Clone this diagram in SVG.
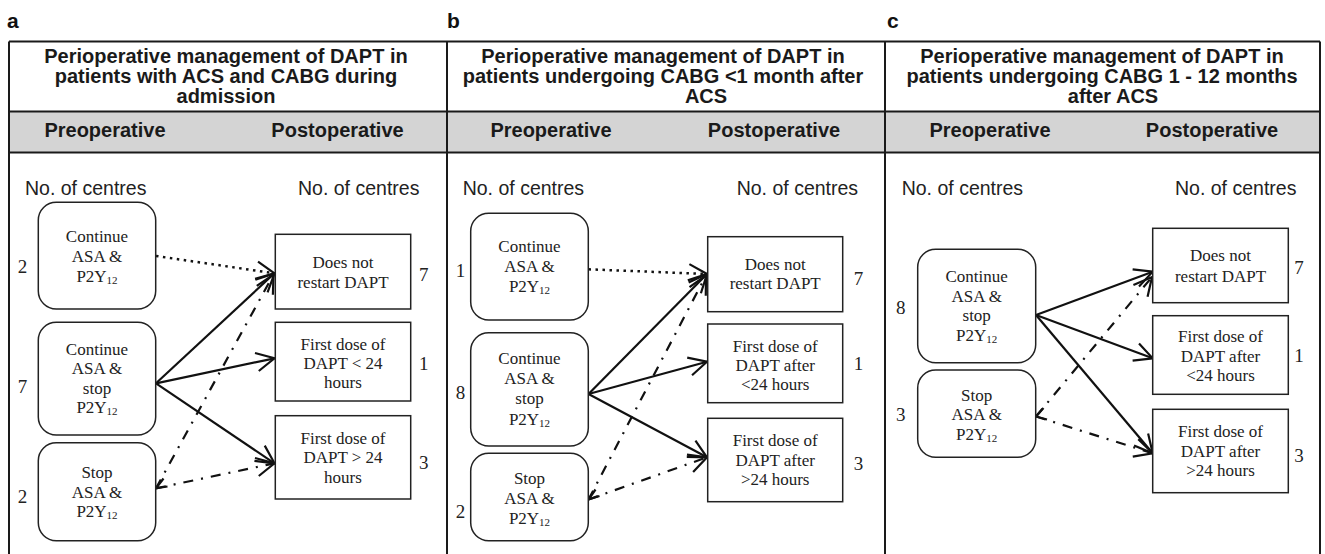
<svg xmlns="http://www.w3.org/2000/svg" width="1325" height="554" viewBox="0 0 1325 554">
<style>
.frame{fill:none;stroke:#1a1a1a;stroke-width:2}
.band{fill:#d4d4d4}
.plabel{font-family:"Liberation Sans",Arial,sans-serif;font-weight:bold;font-size:21px;fill:#111}
.title{font-family:"Liberation Sans",Arial,sans-serif;font-weight:bold;font-size:20px;text-anchor:middle;fill:#1a1a1a}
.cnt{font-family:"Liberation Sans",Arial,sans-serif;font-size:19.5px;fill:#222}
.box{fill:#fff;stroke:#222;stroke-width:1.5}
.lbl{font-family:"Liberation Serif","Times New Roman",serif;font-size:17px;text-anchor:middle;fill:#222}
.num{font-family:"Liberation Serif","Times New Roman",serif;font-size:19px;text-anchor:middle;fill:#222}
.sub{font-size:11px}
.conn path{fill:none;stroke:#111;stroke-width:2.2}
.conn .dot{stroke-dasharray:2.5 4.5;stroke-width:2.5}
.conn .dd{stroke-dasharray:10 8 2 8}
.conn .arr{marker-end:url(#ah)}
</style>
<defs>
<marker id="ah" markerUnits="userSpaceOnUse" markerWidth="26" markerHeight="26" viewBox="-23 -13 26 26" refX="0" refY="0" orient="auto">
<path d="M-18,-9.2 L0,0 L-18,9.2" fill="none" stroke="#111" stroke-width="2.2" stroke-dasharray="none"/>
</marker>
</defs>
<rect width="1325" height="554" fill="#fff"/>

<g id="frame">
<rect class="band" x="9" y="111.5" width="1311" height="41"/>
<path class="frame" d="M9,41.5 H1320 M9,111.5 H1320 M9,152.5 H1320 M9,41.5 V554 M447,41.5 V554 M885,41.5 V554 M1320,41.5 V554"/>
<text class="plabel" x="7" y="28">a</text>
<text class="plabel" x="447" y="28">b</text>
<text class="plabel" x="887" y="28">c</text>
<text class="title" x="226" y="63">Perioperative management of DAPT in</text>
<text class="title" x="226" y="83">patients with ACS and CABG during</text>
<text class="title" x="226" y="103">admission</text>
<text class="title" x="663" y="63">Perioperative management of DAPT in</text>
<text class="title" x="663" y="83">patients undergoing CABG &lt;1 month after</text>
<text class="title" x="706" y="103">ACS</text>
<text class="title" x="1102" y="63">Perioperative management of DAPT in</text>
<text class="title" x="1102" y="83">patients undergoing CABG 1 - 12 months</text>
<text class="title" x="1113" y="103">after ACS</text>
<text class="title" x="105" y="137">Preoperative</text>
<text class="title" x="337.5" y="137">Postoperative</text>
<text class="title" x="551" y="137">Preoperative</text>
<text class="title" x="774" y="137">Postoperative</text>
<text class="title" x="990" y="137">Preoperative</text>
<text class="title" x="1212" y="137">Postoperative</text>
<text class="cnt" x="25" y="195">No. of centres</text>
<text class="cnt" x="298" y="195">No. of centres</text>
<text class="cnt" x="462.7" y="195">No. of centres</text>
<text class="cnt" x="736.7" y="195">No. of centres</text>
<text class="cnt" x="901.7" y="195">No. of centres</text>
<text class="cnt" x="1175" y="195">No. of centres</text>
</g>

<g class="conn" id="connectors">
<!-- panel a -->
<path class="dot arr" d="M156,256 L274.5,273.3"/>
<path class="arr" d="M156,383.3 L274.5,273.3"/>
<path class="arr" d="M156,383.3 L274.5,358.3"/>
<path class="arr" d="M156,383.3 L274.5,463.3"/>
<path class="dd arr" d="M156,488.3 L273.5,274.5"/>
<path class="dd arr" d="M156,488.3 L274.5,463.3"/>
<path d="M163.5,478.5 L156,488.3 L167.5,486.5"/>
<!-- panel b -->
<path class="dot arr" d="M588.5,269.3 L707,274"/>
<path class="arr" d="M588.5,394 L707,274"/>
<path class="arr" d="M588.5,394 L707,361.7"/>
<path class="arr" d="M588.5,394 L707,457.3"/>
<path class="dd arr" d="M588.5,499.5 L706,275.5"/>
<path class="dd arr" d="M588.5,499.5 L707,457.3"/>
<path d="M595.5,489.5 L588.5,499.5 L599.5,496"/>
<!-- panel c -->
<path class="arr" d="M1036,315 L1152.7,271.7"/>
<path class="arr" d="M1036,315 L1152.7,358.3"/>
<path class="arr" d="M1036,315 L1152.7,453.3"/>
<path class="dd arr" d="M1036,416.5 L1152,277"/>
<path class="dd arr" d="M1036,416.5 L1152.7,453.3"/>
<path d="M1043.5,408 L1036,416.5 L1047,419.5"/>
</g>

<!-- panel a nodes -->
<g id="a-pre1">
<rect class="box" x="38.3" y="202.3" width="117.4" height="106.7" rx="18"/>
<text class="lbl" x="97" y="241.7">Continue</text>
<text class="lbl" x="97" y="261.7">ASA &amp;</text>
<text class="lbl" x="97" y="281.7">P2Y<tspan class="sub" dy="2">12</tspan></text>
<text class="num" x="22.5" y="273.3">2</text>
</g>
<g id="a-pre2">
<rect class="box" x="38.3" y="322.3" width="117.4" height="112.7" rx="18"/>
<text class="lbl" x="97" y="355">Continue</text>
<text class="lbl" x="97" y="374">ASA &amp;</text>
<text class="lbl" x="97" y="393.5">stop</text>
<text class="lbl" x="97" y="413.3">P2Y<tspan class="sub" dy="2">12</tspan></text>
<text class="num" x="22.5" y="392.7">7</text>
</g>
<g id="a-pre3">
<rect class="box" x="38.3" y="442.7" width="117.4" height="98" rx="18"/>
<text class="lbl" x="97" y="478.3">Stop</text>
<text class="lbl" x="97" y="498">ASA &amp;</text>
<text class="lbl" x="97" y="517">P2Y<tspan class="sub" dy="2">12</tspan></text>
<text class="num" x="22.5" y="503.3">2</text>
</g>
<g id="a-post1">
<rect class="box" x="275.3" y="234.3" width="135.4" height="74.7"/>
<text class="lbl" x="343" y="268.3">Does not</text>
<text class="lbl" x="343" y="288.3">restart DAPT</text>
<text class="num" x="423.8" y="280.7">7</text>
</g>
<g id="a-post2">
<rect class="box" x="275.3" y="322.3" width="135.4" height="78.7"/>
<text class="lbl" x="343" y="350">First dose of</text>
<text class="lbl" x="343" y="368.5">DAPT &lt; 24</text>
<text class="lbl" x="343" y="388.3">hours</text>
<text class="num" x="423.8" y="370">1</text>
</g>
<g id="a-post3">
<rect class="box" x="275.3" y="415.7" width="135.4" height="83.3"/>
<text class="lbl" x="343" y="444">First dose of</text>
<text class="lbl" x="343" y="463.3">DAPT &gt; 24</text>
<text class="lbl" x="343" y="483.3">hours</text>
<text class="num" x="423.8" y="469.3">3</text>
</g>

<!-- panel b nodes -->
<g id="b-pre1">
<rect class="box" x="470.7" y="213.3" width="117.6" height="106.7" rx="18"/>
<text class="lbl" x="529.5" y="251.7">Continue</text>
<text class="lbl" x="529.5" y="271.7">ASA &amp;</text>
<text class="lbl" x="529.5" y="291.7">P2Y<tspan class="sub" dy="2">12</tspan></text>
<text class="num" x="460.5" y="277.3">1</text>
</g>
<g id="b-pre2">
<rect class="box" x="470.7" y="332.7" width="117.6" height="113.3" rx="18"/>
<text class="lbl" x="529.5" y="364.3">Continue</text>
<text class="lbl" x="529.5" y="384.3">ASA &amp;</text>
<text class="lbl" x="529.5" y="404.3">stop</text>
<text class="lbl" x="529.5" y="424.5">P2Y<tspan class="sub" dy="2">12</tspan></text>
<text class="num" x="460.5" y="399.3">8</text>
</g>
<g id="b-pre3">
<rect class="box" x="470.7" y="453.3" width="117.6" height="87.4" rx="18"/>
<text class="lbl" x="529.5" y="484.3">Stop</text>
<text class="lbl" x="529.5" y="503.5">ASA &amp;</text>
<text class="lbl" x="529.5" y="523.5">P2Y<tspan class="sub" dy="2">12</tspan></text>
<text class="num" x="460.5" y="518.3">2</text>
</g>
<g id="b-post1">
<rect class="box" x="707.7" y="236.7" width="135" height="75"/>
<text class="lbl" x="775.2" y="270">Does not</text>
<text class="lbl" x="775.2" y="289.3">restart DAPT</text>
<text class="num" x="858.5" y="285">7</text>
</g>
<g id="b-post2">
<rect class="box" x="707.7" y="324" width="135" height="78.7"/>
<text class="lbl" x="775.2" y="351.7">First dose of</text>
<text class="lbl" x="775.2" y="370.5">DAPT after</text>
<text class="lbl" x="775.2" y="390">&lt;24 hours</text>
<text class="num" x="858.5" y="370">1</text>
</g>
<g id="b-post3">
<rect class="box" x="707.7" y="418.3" width="135" height="83.4"/>
<text class="lbl" x="775.2" y="446">First dose of</text>
<text class="lbl" x="775.2" y="465.5">DAPT after</text>
<text class="lbl" x="775.2" y="485">&gt;24 hours</text>
<text class="num" x="858.5" y="470">3</text>
</g>

<!-- panel c nodes -->
<g id="c-pre1">
<rect class="box" x="917.7" y="249.3" width="118" height="113.4" rx="18"/>
<text class="lbl" x="976.7" y="281.7">Continue</text>
<text class="lbl" x="976.7" y="301.5">ASA &amp;</text>
<text class="lbl" x="976.7" y="321">stop</text>
<text class="lbl" x="976.7" y="340.5">P2Y<tspan class="sub" dy="2">12</tspan></text>
<text class="num" x="900.8" y="314">8</text>
</g>
<g id="c-pre2">
<rect class="box" x="917.7" y="370" width="118" height="87.3" rx="18"/>
<text class="lbl" x="976.7" y="401">Stop</text>
<text class="lbl" x="976.7" y="420">ASA &amp;</text>
<text class="lbl" x="976.7" y="439.5">P2Y<tspan class="sub" dy="2">12</tspan></text>
<text class="num" x="900.8" y="420.7">3</text>
</g>
<g id="c-post1">
<rect class="box" x="1152.7" y="228.3" width="135.6" height="74.4"/>
<text class="lbl" x="1220.5" y="261">Does not</text>
<text class="lbl" x="1220.5" y="281.5">restart DAPT</text>
<text class="num" x="1299" y="274">7</text>
</g>
<g id="c-post2">
<rect class="box" x="1152.7" y="315.7" width="135.6" height="78.6"/>
<text class="lbl" x="1220.5" y="341.7">First dose of</text>
<text class="lbl" x="1220.5" y="361.5">DAPT after</text>
<text class="lbl" x="1220.5" y="380.7">&lt;24 hours</text>
<text class="num" x="1299" y="361.7">1</text>
</g>
<g id="c-post3">
<rect class="box" x="1152.7" y="409.3" width="135.6" height="83.4"/>
<text class="lbl" x="1220.5" y="436.7">First dose of</text>
<text class="lbl" x="1220.5" y="456.5">DAPT after</text>
<text class="lbl" x="1220.5" y="476">&gt;24 hours</text>
<text class="num" x="1299" y="461.5">3</text>
</g>
</svg>
